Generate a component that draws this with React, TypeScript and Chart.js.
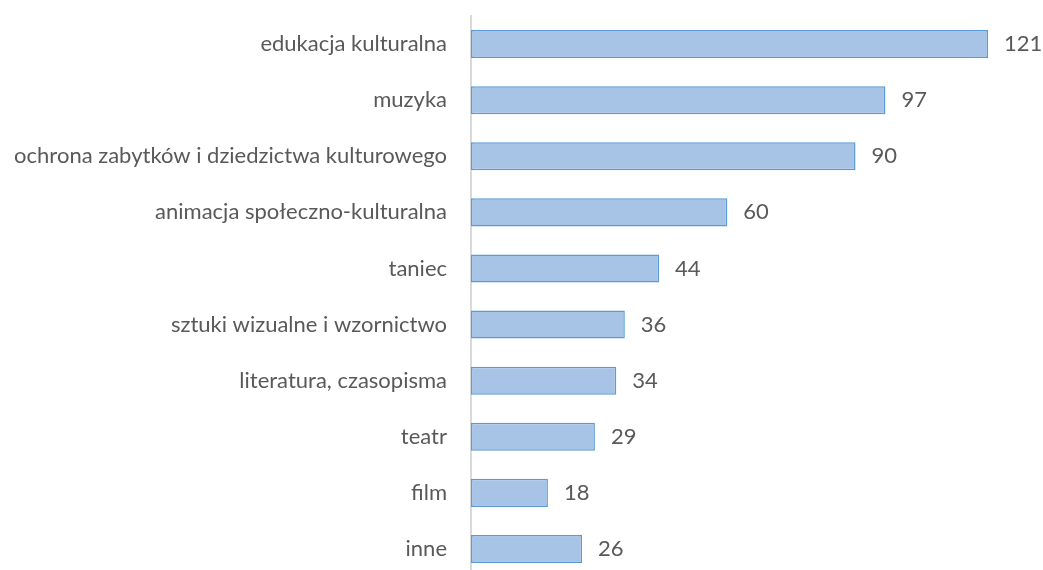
import React, { useEffect, useRef } from "react";
import { Chart, registerables } from "chart.js";

Chart.register(...registerables);

const categories = [
  "edukacja kulturalna",
  "muzyka",
  "ochrona zabytków i dziedzictwa kulturowego",
  "animacja społeczno-kulturalna",
  "taniec",
  "sztuki wizualne i wzornictwo",
  "literatura, czasopisma",
  "teatr",
  "film",
  "inne",
];
const values = [121, 97, 90, 60, 44, 36, 34, 29, 18, 26];

const FONT = "Lato, sans-serif";
const TEXT = "#595959";
const FONT_SIZE = 22;

const valueLabels = {
  id: "valueLabels",
  afterDraw(chart: any) {
    const ctx = chart.ctx;
    const meta = chart.getDatasetMeta(0);
    ctx.save();
    ctx.font = `${FONT_SIZE}px ${FONT}`;
    ctx.fillStyle = TEXT;
    ctx.textAlign = "left";
    ctx.textBaseline = "middle";
    meta.data.forEach((bar: any, i: number) => {
      ctx.fillText(String(values[i]), bar.x + 16, bar.y);
    });
    ctx.restore();
  },
};

export default function App() {
  const ref = useRef<HTMLCanvasElement>(null);
  useEffect(() => {
    if (!ref.current) return;
    const chart = new Chart(ref.current, {
      type: "bar",
      data: {
        labels: categories,
        datasets: [
          {
            data: values,
            backgroundColor: (c: any) => {
              const bar = c.element;
              const ctx = c.chart.ctx;
              if (!bar || bar.y === undefined || !isFinite(bar.y)) return "#a7c4e7";
              const h = 28;
              const g = ctx.createLinearGradient(0, bar.y - h / 2, 0, bar.y + h / 2);
              g.addColorStop(0, "#b5cdea");
              g.addColorStop(1, "#96b8e1");
              return g;
            },
            borderColor: "#5b9bd5",
            borderWidth: 1.5,
            borderSkipped: false,
            barPercentage: 0.5,
            categoryPercentage: 1,
          },
        ],
      },
      options: {
        indexAxis: "y",
        animation: false,
        responsive: false,
        layout: { padding: { top: 8, bottom: 9, right: 8, left: 0 } },
        plugins: { legend: { display: false }, tooltip: { enabled: false } },
        scales: {
          x: { display: false, min: 0, max: 132 },
          y: {
            afterFit: (s: any) => {
              s.width = 463;
              s.paddingTop = 0;
              s.paddingBottom = 0;
            },
            grid: { display: false, drawTicks: false },
            border: { display: true, color: "#d9d9d9", width: 2 },
            ticks: {
              padding: 24,
              color: TEXT,
              font: { family: FONT, size: FONT_SIZE },
            },
          },
        },
      },
      plugins: [valueLabels],
    });
    return () => chart.destroy();
  }, []);
  return (
    <div style={{ position: "fixed", top: 8, left: 8, width: 1035, height: 578 }}>
      <canvas ref={ref} width={1035} height={578} style={{ display: "block" }} />
    </div>
  );
}
